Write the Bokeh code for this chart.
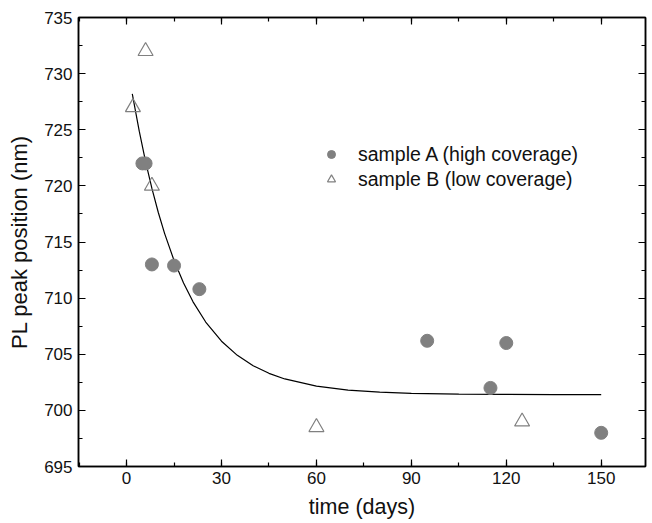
from bokeh.plotting import figure
from bokeh.models import (LinearAxis, SingleIntervalTicker, Range1d, Legend,
                          LegendItem, ColumnDataSource, CustomLabelingPolicy)
from bokeh.embed import file_html
from bokeh.resources import INLINE

# sample A (high coverage) - filled circles
days_a = [5, 6, 8, 15, 23, 95, 115, 120, 150]
peak_a = [722.0, 722.0, 713.0, 712.9, 710.8, 706.2, 702.0, 706.0, 698.0]
# sample B (low coverage) - open triangles
days_b = [2, 6, 8, 60, 125]
peak_b = [727.0, 732.0, 720.0, 698.5, 699.0]
# fitted decay curve
fit_days = [1.8, 4, 6, 8, 10, 12, 15, 18, 21, 25, 30, 35, 40, 45, 50, 60, 70,
            80, 90, 105, 120, 135, 150]
fit_peak = [728.2, 724.87, 722.16, 719.77, 717.65, 715.77, 713.35, 711.34,
            709.67, 707.87, 706.16, 704.90, 703.98, 703.30, 702.80, 702.16,
            701.81, 701.62, 701.52, 701.45, 701.42, 701.41, 701.40]

label_a = "sample A (high coverage)"
label_b = "sample B (low coverage)"
x_title = "time (days)"
y_title = "PL peak position (nm)"

FONT = "Liberation Sans"
GREY = "#808080"

p = figure(frame_width=567, frame_height=449, output_backend="svg",
           toolbar_location=None,
           x_range=Range1d(-15.2, 164), y_range=Range1d(695, 735),
           min_border_left=78, min_border_right=3, min_border_top=17,
           min_border_bottom=50, x_axis_type=None, y_axis_type=None)
p.grid.visible = False
p.outline_line_color = "#000000"
p.outline_line_width = 1.5
p.background_fill_color = "white"
p.border_fill_color = "white"

no_labels = CustomLabelingPolicy(code="return new Set()")


def style_axis(ax, show_labels, title_size="21px"):
    ax.axis_line_color = "#000000"
    ax.axis_line_width = 1.5
    ax.major_tick_line_color = "#000000"
    ax.minor_tick_line_color = "#000000"
    ax.major_tick_line_width = 1.2
    ax.minor_tick_line_width = 1.2
    ax.major_tick_in = 7
    ax.major_tick_out = 0
    ax.minor_tick_in = 4
    ax.minor_tick_out = 0
    if show_labels:
        ax.major_label_text_font = FONT
        ax.major_label_text_font_size = "17px"
        ax.major_label_text_color = "#111111"
        ax.axis_label_text_font = FONT
        ax.axis_label_text_font_size = title_size
        ax.axis_label_text_font_style = "normal"
        ax.axis_label_text_color = "#111111"
    else:
        ax.major_label_policy = no_labels
        ax.major_label_text_font_size = "1px"
        ax.major_label_standoff = 0


xb = LinearAxis(ticker=SingleIntervalTicker(interval=30, num_minor_ticks=2),
                axis_label=x_title)
style_axis(xb, True, "21.5px")
xb.major_label_standoff = 5
xb.axis_label_standoff = 8
p.add_layout(xb, "below")

yl = LinearAxis(ticker=SingleIntervalTicker(interval=5, num_minor_ticks=2),
                axis_label=y_title)
style_axis(yl, True, "22px")
yl.major_label_standoff = 6
yl.axis_label_standoff = 9
p.add_layout(yl, "left")

xt = LinearAxis(ticker=SingleIntervalTicker(interval=30, num_minor_ticks=2))
style_axis(xt, False)
p.add_layout(xt, "above")

yr = LinearAxis(ticker=SingleIntervalTicker(interval=5, num_minor_ticks=2))
style_axis(yr, False)
p.add_layout(yr, "right")

src_fit = ColumnDataSource(dict(x=fit_days, y=fit_peak))
src_a = ColumnDataSource(dict(x=days_a, y=peak_a))
src_b = ColumnDataSource(dict(x=days_b, y=peak_b))

p.line("x", "y", source=src_fit, line_color="#000000", line_width=1.2)
ra = p.scatter("x", "y", source=src_a, marker="circle", size=13,
               fill_color=GREY, line_color=GREY, line_width=1)
rb = p.scatter("x", "y", source=src_b, marker="triangle", size=15,
               fill_color=None, line_color=GREY, line_width=1.2)


def make_legend(label, renderer, loc):
    lg = Legend(items=[LegendItem(label=label, renderers=[renderer])],
                location=loc)
    lg.border_line_color = None
    lg.background_fill_alpha = 0
    lg.label_text_font = FONT
    lg.label_text_font_size = "19.5px"
    lg.label_text_color = "#111111"
    lg.glyph_width = 20
    lg.glyph_height = 30
    lg.label_height = 30
    lg.label_standoff = 17
    lg.spacing = 0
    lg.padding = 10
    lg.margin = 0
    return lg


p.add_layout(make_legend(label_a, ra, (243, 297)), "center")
p.add_layout(make_legend(label_b, rb, (243, 272)), "center")

open("out.html", "w").write(file_html(p, INLINE))
